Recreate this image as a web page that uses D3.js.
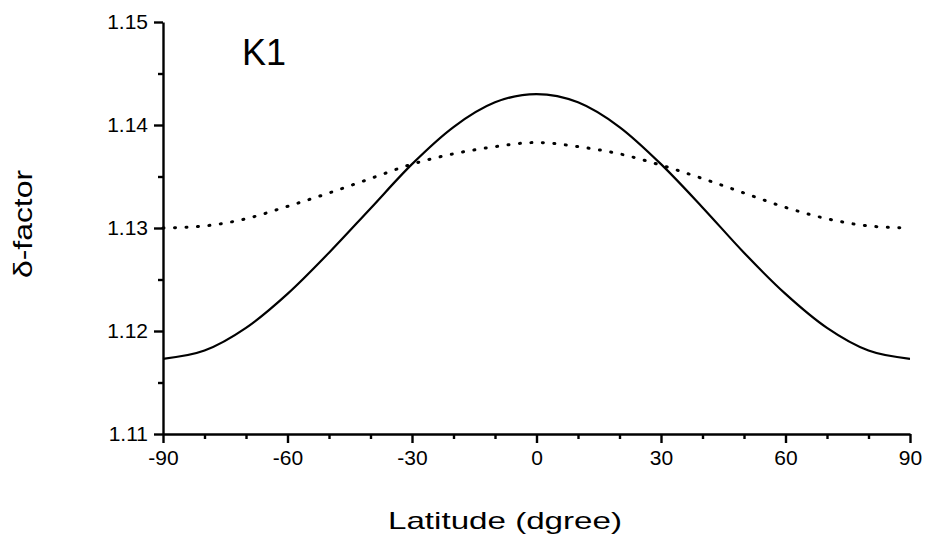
<!DOCTYPE html>
<html>
<head>
<meta charset="utf-8">
<script src="https://cdn.jsdelivr.net/npm/d3@7"></script>
<style>
  body { margin: 0; background: #fff; }
  svg { display: block; font-family: "Liberation Sans", Arial, sans-serif; }
  .axis path, .axis line { stroke: #000; stroke-width: 2.4; }
  .axis text { font-size: 21px; fill: #000; font-family: "Liberation Sans", Arial, sans-serif; }
</style>
</head>
<body>
<svg width="927" height="542"></svg>
<script>
// latitude in degrees
const latitudes = [-90, -80, -70, -60, -50, -40, -30, -20, -10, 0, 10, 20, 30, 40, 50, 60, 70, 80, 90];
// solid curve
const solidValues = [1.1173, 1.1181, 1.1203, 1.1236, 1.1276, 1.1319, 1.1362, 1.1398, 1.1422, 1.1430,
                     1.1422, 1.1398, 1.1362, 1.1320, 1.1276, 1.1236, 1.1203, 1.1181, 1.1173];
// dotted curve
const dottedValues = [1.1300, 1.1302, 1.1309, 1.1321, 1.1334, 1.1348, 1.1362, 1.1372, 1.1379, 1.1383,
                      1.1379, 1.1372, 1.1361, 1.1348, 1.1334, 1.1320, 1.1309, 1.1302, 1.1300];
const xTicks = [-90, -60, -30, 0, 30, 60, 90];
const xMinorTicks = [-80, -70, -50, -40, -20, -10, 10, 20, 40, 50, 70, 80];
const yTicks = [1.11, 1.12, 1.13, 1.14, 1.15];
const yMinorTicks = [1.115, 1.125, 1.135, 1.145];

const svg = d3.select("svg");
const margin = { left: 163, top: 22 };
const width = 747, height = 412;

const x = d3.scaleLinear().domain([-90, 90]).range([0, width]);
const y = d3.scaleLinear().domain([1.11, 1.15]).range([height, 0]);

const g = svg.append("g").attr("transform", `translate(${margin.left},${margin.top})`);

// minor ticks first so the major axis draws on top
g.append("g")
  .attr("class", "axis")
  .attr("transform", `translate(0,${height})`)
  .call(d3.axisBottom(x).tickValues(xMinorTicks).tickSize(5).tickFormat(""))
  .select(".domain").remove();

g.append("g")
  .attr("class", "axis")
  .call(d3.axisLeft(y).tickValues(yMinorTicks).tickSize(5).tickFormat(""))
  .select(".domain").remove();

g.append("g")
  .attr("class", "axis")
  .attr("transform", `translate(0,${height})`)
  .call(d3.axisBottom(x).tickValues(xTicks).tickSize(9).tickSizeOuter(0).tickPadding(7).tickFormat(d => String(d)));

g.append("g")
  .attr("class", "axis")
  .call(d3.axisLeft(y).tickValues(yTicks).tickSize(9).tickSizeOuter(0).tickPadding(6).tickFormat(d => d.toFixed(2)));

const line = d3.line()
  .x((d, i) => x(latitudes[i]))
  .y(d => y(d))
  .curve(d3.curveMonotoneX);

g.append("path")
  .datum(solidValues)
  .attr("fill", "none")
  .attr("stroke", "#000")
  .attr("stroke-width", 2.2)
  .attr("d", line);

g.append("path")
  .datum(dottedValues)
  .attr("fill", "none")
  .attr("stroke", "#000")
  .attr("stroke-width", 3)
  .attr("stroke-linecap", "round")
  .attr("stroke-dasharray", "1 10.5")
  .attr("d", line);

// panel label
svg.append("text")
  .attr("x", 242)
  .attr("y", 65)
  .attr("font-size", 36)
  .text("K1");

// axis titles
svg.append("text")
  .attr("x", 388)
  .attr("y", 529)
  .attr("font-size", 24)
  .attr("textLength", 234)
  .attr("lengthAdjust", "spacingAndGlyphs")
  .text("Latitude (dgree)");

svg.append("text")
  .attr("transform", "translate(32,278) rotate(-90)")
  .attr("font-size", 25)
  .attr("textLength", 108)
  .attr("lengthAdjust", "spacingAndGlyphs")
  .text("δ-factor");
</script>
</body>
</html>
